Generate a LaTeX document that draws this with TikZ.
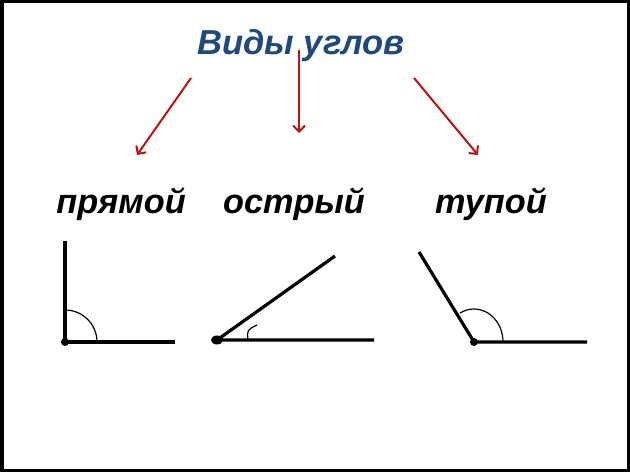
\documentclass[tikz,border=0pt]{standalone}
\usepackage{fontspec}
\setmainfont{Liberation Sans}
\usepackage{tikz}
\usetikzlibrary{arrows.meta}
\definecolor{titleblue}{RGB}{31,73,125}
\definecolor{arrowred}{RGB}{192,16,16}
\tikzset{
  kind/.style={font=\fontsize{34.3}{38}\selectfont\bfseries\itshape, anchor=base, inner sep=0pt},
  pointer/.style={arrowred, line width=2pt, -{Straight Barb[length=6pt,width=12pt]}},
  ray/.style={line width=3.2pt},
  mark arc/.style={line width=1.2pt}
}
\begin{document}
\begin{tikzpicture}[x=1pt, y=1pt]
                \useasboundingbox (0,0) rectangle (630,472);
                \draw[line width=3.5pt] (1.75,1.75) rectangle (628.25,470.25);
                \node[kind, titleblue, font=\fontsize{34.6}{38}\selectfont\bfseries\itshape] (title) at (301,417) {Виды углов};
                \node[kind] (pryamoy) at (121,258) {прямой};
                \node[kind] (ostry) at (294,258) {острый};
                \node[kind] (tupoy) at (491,258) {тупой};
                % arrows
                \coordinate (aL) at (191,394); \coordinate (bL) at (137,317);
                \coordinate (aM) at (299,422); \coordinate (bM) at (299,339);
                \coordinate (aR) at (414,394); \coordinate (bR) at (478,317);
                \draw[pointer] (aL) -- (bL);
                \draw[pointer] (aM) -- (bM);
                \draw[pointer] (aR) -- (bR);
                % right angle
                \coordinate (v1) at (65,130);
                \coordinate (p1) at (65,231);
                \coordinate (q1) at (175,130);
                \draw[ray] (p1) -- (v1) -- (q1);
                \fill (v1) circle (4pt);
                \draw[mark arc] (v1) ++(32,0) arc (0:90:32);
                % acute angle
                \coordinate (v2) at (217,132);
                \coordinate (p2) at (335,216);
                \coordinate (q2) at (374,132);
                \draw[ray] (p2) -- (v2) -- (q2);
                \fill (v2) ellipse (6pt and 4.5pt);
                \coordinate (h2) at (248,132);
                \coordinate (k2) at (257,147);
                \draw[mark arc] (h2) .. controls (247,142) .. (k2);
                % obtuse angle
                \coordinate (v3) at (474,130);
                \coordinate (p3) at (419,220);
                \coordinate (q3) at (587,130);
                \draw[ray] (p3) -- (v3) -- (q3);
                \fill (v3) circle (4pt);
                \draw[mark arc] (v3) ++(29,0) arc (0:119:29 and 33);
\end{tikzpicture}
\end{document}
